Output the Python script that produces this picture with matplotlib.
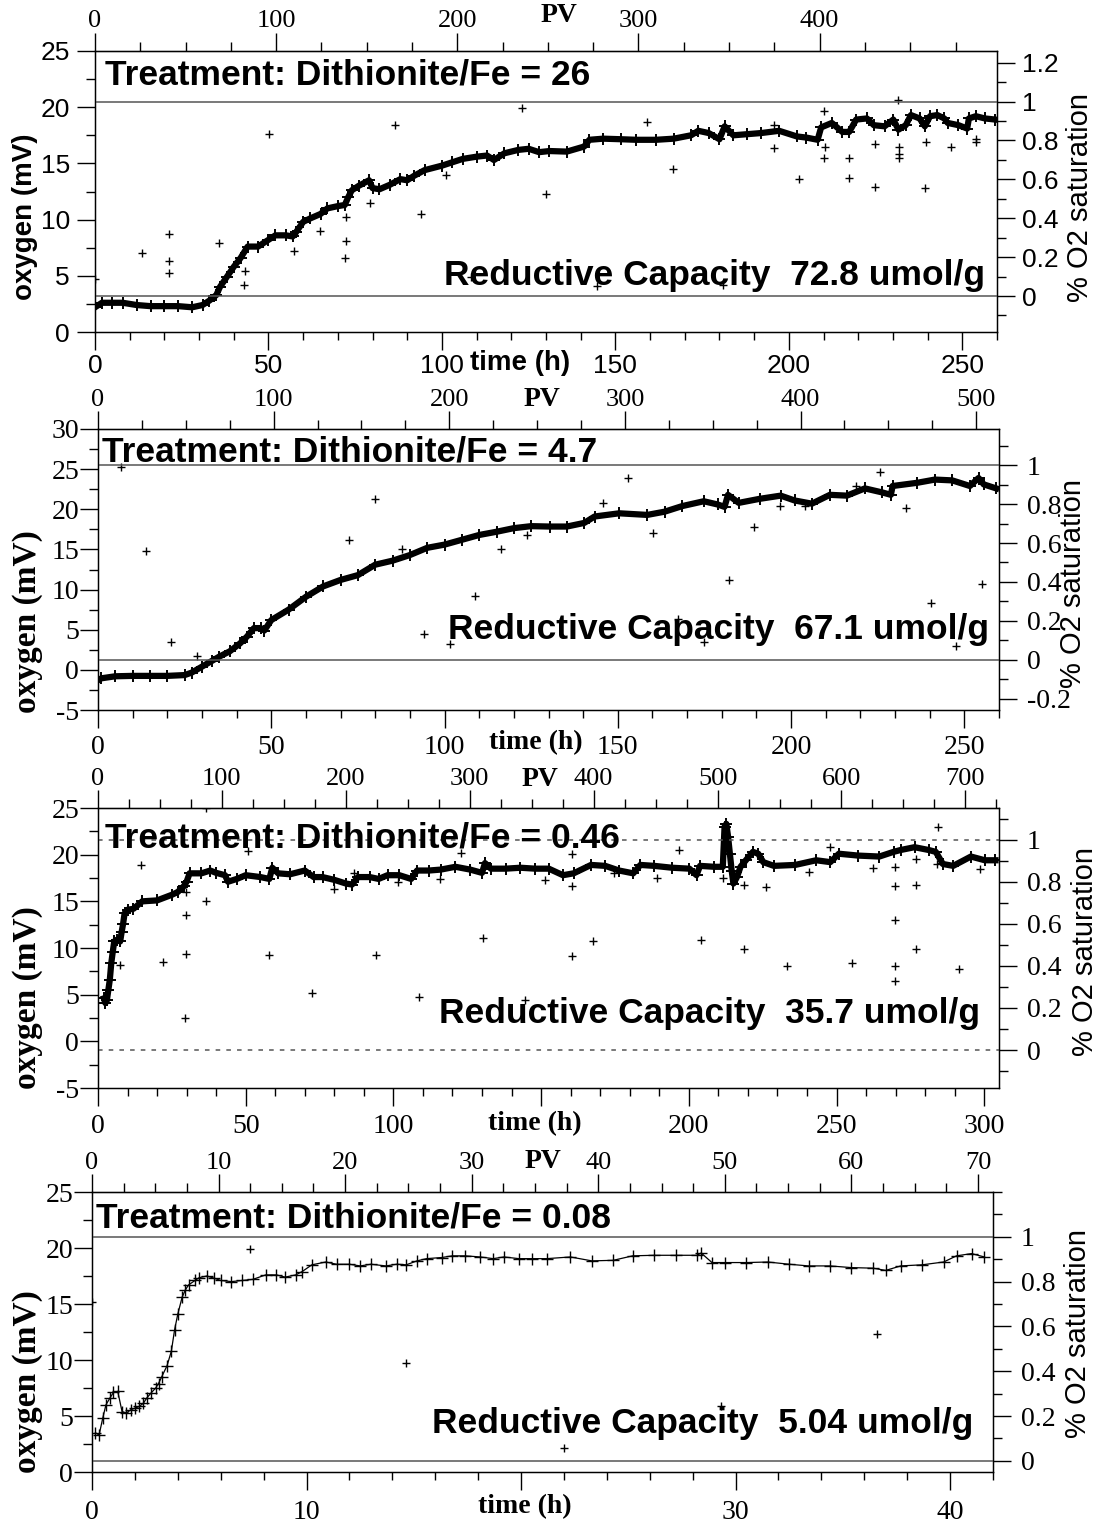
import matplotlib
matplotlib.use("Agg")
import matplotlib.pyplot as plt
from matplotlib.ticker import MultipleLocator

plt.rcParams['axes.unicode_minus'] = False

SANS = 'Liberation Sans'
NARROW = ['Liberation Sans Narrow', 'Liberation Sans']
SERIF = 'Liberation Serif'

# ---------------- data (time in h, oxygen in mV) ----------------
# panel 1: Dithionite/Fe = 26
p1_t = [0, 2, 5, 8, 12, 16, 20, 24, 28, 31, 33, 35, 36, 38, 40, 42, 44, 47, 50, 52,
        55, 57, 58, 60, 62, 65, 67, 70, 72, 73, 74, 76, 79, 80, 82, 85, 88, 90, 92, 95,
        100, 103, 106, 110, 113, 115, 118, 122, 125, 128, 131, 136, 141, 142.5, 146.5,
        151.6, 156, 161.7, 166.8, 171.8, 173.9, 176.9, 180, 181.5, 184, 188, 192, 197.2,
        202.3, 205, 208.3, 209.3, 212.4, 215.4, 217.4, 219.4, 222.5, 224.5, 227.6, 230.1,
        231.6, 233.7, 235.2, 237.7, 239.2, 240.7, 242.8, 244.8, 245.8, 248.9, 251.4,
        251.9, 253.9, 256.5, 259.5]
p1_v = [2.2, 2.6, 2.6, 2.6, 2.4, 2.3, 2.3, 2.3, 2.2, 2.4, 2.8, 3.3, 4.0, 4.9, 5.8, 6.6,
        7.6, 7.6, 8.2, 8.6, 8.6, 8.5, 8.9, 9.8, 10.1, 10.5, 11.0, 11.2, 11.3, 12.0, 12.6,
        13.0, 13.5, 12.8, 12.7, 13.1, 13.6, 13.5, 13.9, 14.4, 14.8, 15.1, 15.4, 15.6,
        15.7, 15.3, 15.9, 16.2, 16.3, 16.0, 16.1, 16.05, 16.5, 17.1, 17.2, 17.15, 17.1,
        17.1, 17.2, 17.5, 17.9, 17.7, 17.15, 18.3, 17.5, 17.6, 17.7, 17.9, 17.4, 17.3,
        17.1, 18.2, 18.6, 17.8, 17.8, 18.9, 19.0, 18.4, 18.3, 18.9, 18.0, 18.4, 19.3,
        19.0, 18.3, 19.2, 19.3, 19.0, 18.6, 18.4, 18.1, 19.0, 19.2, 19.0, 18.9]
p1_out_t = [0, 13.6, 21.2, 21.2, 21.4, 35.6, 43.2, 43.0, 50.1, 57.5, 64.8, 72.3, 72.3,
            72.0, 79.4, 86.5, 93.9, 101.2, 108.3, 123.0, 130.1, 144.8, 159.2, 166.6,
            181.0, 195.7, 195.7, 203.0, 210.2, 210.4, 210.2, 217.4, 217.4, 224.8, 224.8,
            231.6, 231.8, 231.8, 231.8, 239.2, 239.4, 246.6, 253.9, 253.9]
p1_out_v = [4.75, 7.0, 8.7, 6.3, 5.25, 7.95, 5.4, 4.2, 17.65, 7.2, 9.0, 10.2, 8.1, 6.6,
            11.5, 18.4, 10.5, 14.0, 4.9, 19.95, 12.3, 4.1, 18.7, 14.5, 4.2, 18.4, 16.4,
            13.6, 19.7, 16.5, 15.5, 15.5, 13.7, 12.9, 16.7, 20.6, 16.5, 15.8, 15.5, 12.8,
            16.9, 16.5, 16.9, 17.2]

# panel 2: Dithionite/Fe = 4.7
p2_t = [0, 1, 5, 10, 15, 20, 25, 27, 30, 33, 35, 38, 41, 43, 45, 47, 48, 50, 55, 60,
        65, 70, 75, 80, 85, 90, 95, 100, 105, 110, 115, 120, 125, 130.3, 135.3, 140.3,
        143.3, 150.4, 158.5, 163.5, 168.6, 174.8, 178.8, 180.8, 181.8, 184.9, 190.9, 197,
        201, 206, 211.2, 216.1, 221.3, 226.3, 228.8, 229.3, 236.4, 241.5, 246.5, 251.6,
        254.1, 255.6, 259.2]
p2_v = [-1.3, -1.05, -0.8, -0.75, -0.75, -0.75, -0.65, -0.35, 0.4, 1.15, 1.65, 2.3, 3.3,
        4.15, 5.2, 5.2, 4.9, 6.2, 7.5, 9.1, 10.4, 11.2, 11.8, 13.1, 13.6, 14.3, 15.2,
        15.6, 16.2, 16.8, 17.2, 17.65, 17.9, 17.85, 17.85, 18.3, 19.1, 19.5, 19.3, 19.7,
        20.4, 21.0, 20.6, 20.3, 21.8, 20.8, 21.3, 21.7, 21.1, 20.7, 21.8, 21.7, 22.6,
        22.1, 21.8, 22.9, 23.3, 23.7, 23.6, 22.9, 23.9, 23.1, 22.6]
p2_out_t = [6.6, 13.9, 21.2, 28.6, 72.4, 79.8, 87.7, 94.2, 101.7, 108.9, 116.4, 123.7,
            145.6, 152.8, 160.1, 167.4, 174.8, 182.1, 189.4, 196.8, 204.0, 218.7, 225.8,
            233.2, 240.5, 247.7, 255.1]
p2_out_v = [25.3, 14.8, 3.45, 1.75, 16.2, 21.3, 15.0, 4.5, 3.2, 9.15, 15.0, 16.8, 20.8,
            23.9, 17.1, 6.3, 3.5, 11.2, 17.8, 20.4, 20.4, 22.9, 24.6, 20.2, 8.3, 3.0, 10.7]

# panel 3: Dithionite/Fe = 0.46
p3_t = [2, 2.5, 3, 3.5, 4, 4.5, 5, 5.5, 6.5, 7.5, 8, 8.5, 9, 10, 12, 15, 20, 25, 27, 29,
        30, 31, 35, 38, 40, 43, 44, 47, 50, 55, 58, 59, 61, 65, 70, 73, 76, 80, 84, 86,
        88, 92, 95, 98, 102, 106, 108, 112, 116, 121, 126, 130, 131, 133, 138, 143, 148,
        152.6, 157.4, 161, 166.9, 171.7, 176.4, 181.2, 183.6, 188.3, 194.3, 200.2, 202.6,
        203.8, 208.6, 211.5, 212.1, 212.7, 213.3, 213.9, 214.5, 215.1, 216.3, 217.5,
        219.3, 221.7, 223.5, 225.2, 228.8, 236, 243.1, 247.9, 250.8, 257.4, 264.5, 269.3,
        271.7, 276.4, 281.2, 283.6, 286, 289.5, 295.5, 300.2, 303.8]
p3_v = [4.6, 4.1, 4.4, 5.5, 6.6, 8.4, 9.6, 10.7, 10.9, 10.7, 11.7, 12.6, 13.7, 14.1, 14.2,
        15.0, 15.1, 15.7, 16.0, 16.6, 17.1, 18.0, 18.0, 18.3, 18.05, 17.8, 17.1, 17.4,
        17.8, 17.6, 17.4, 18.6, 18.0, 17.9, 18.3, 17.6, 17.6, 17.3, 16.9, 16.8, 17.6,
        17.6, 17.4, 17.8, 17.8, 17.4, 18.3, 18.3, 18.4, 18.7, 18.4, 18.05, 19.1, 18.5,
        18.5, 18.6, 18.5, 18.5, 17.8, 18.0, 18.9, 18.8, 18.3, 18.0, 18.9, 18.8, 18.6,
        18.5, 17.8, 18.8, 18.7, 18.7, 23.0, 23.3, 21.9, 20.1, 18.3, 16.9, 17.6, 18.7,
        19.4, 20.3, 20.1, 19.2, 18.8, 18.9, 19.4, 19.2, 20.1, 19.9, 19.8, 20.3, 20.5,
        20.8, 20.5, 20.3, 19.0, 18.8, 19.8, 19.4, 19.4]
p3_out_t = [7.6, 14.7, 22.1, 29.8, 29.8, 29.8, 29.4, 36.7, 36.7, 50.8, 58.0, 72.6, 79.8,
            86.8, 94.1, 101.5, 108.6, 115.9, 122.9, 130.2, 144.7, 151.2, 160.4, 160.4,
            160.4, 167.5, 174.6, 189.3, 196.7, 204.0, 211.5, 218.7, 218.7, 226.2, 233.3,
            240.7, 247.9, 255.2, 262.4, 269.9, 269.9, 269.9, 269.9, 269.9, 277.0, 277.0,
            277.0, 284.2, 284.0, 291.3, 298.5]
p3_out_v = [8.2, 18.9, 8.5, 16.0, 13.5, 9.4, 2.55, 15.0, 25.0, 20.4, 9.25, 5.15, 16.3,
            18.05, 9.25, 17.1, 4.8, 17.4, 20.2, 11.1, 4.45, 17.3, 20.05, 16.6, 9.1, 10.7,
            18.0, 17.45, 20.5, 10.9, 17.45, 9.9, 16.7, 16.5, 8.1, 18.1, 20.8, 8.35, 18.6,
            18.7, 16.6, 13.0, 8.1, 6.45, 16.8, 19.5, 9.9, 23.0, 19.0, 7.7, 18.5]

# panel 4: Dithionite/Fe = 0.08
p4_t = [0.16, 0.33, 0.5, 0.65, 0.85, 1.0, 1.2, 1.4, 1.6, 1.8, 2.0, 2.2, 2.4, 2.55, 2.75,
        2.97, 3.1, 3.25, 3.5, 3.7, 3.85, 4.0, 4.2, 4.35, 4.5, 4.8, 5.0, 5.35, 5.7, 6.0,
        6.5, 7.0, 7.5, 8.1, 8.6, 9.0, 9.5, 9.8, 10.25, 10.9, 11.4, 12.0, 12.5, 13.0, 13.7,
        14.2, 14.65, 15.15, 15.6, 16.3, 16.8, 17.4, 18.1, 18.7, 19.2, 19.9, 20.5, 21.2,
        22.3, 23.3, 24.3, 25.2, 26.2, 27.2, 28.2, 28.4, 28.9, 29.5, 30.5, 31.5, 32.5,
        33.4, 34.4, 35.4, 36.4, 37.0, 37.7, 38.7, 39.7, 40.3, 41.0, 41.6]
p4_v = [3.5, 3.3, 4.8, 6.0, 6.65, 7.1, 7.2, 5.4, 5.25, 5.55, 5.7, 5.85, 6.15, 6.6, 7.05,
        7.5, 7.9, 8.5, 9.5, 10.8, 12.7, 14.1, 15.6, 16.25, 16.7, 17.1, 17.35, 17.5, 17.3,
        17.1, 17.0, 17.1, 17.2, 17.6, 17.6, 17.4, 17.6, 17.9, 18.5, 18.75, 18.55, 18.55,
        18.4, 18.55, 18.4, 18.55, 18.5, 18.85, 19.05, 19.15, 19.3, 19.3, 19.2, 19.05,
        19.2, 19.05, 19.05, 19.05, 19.2, 18.85, 18.9, 19.3, 19.35, 19.35, 19.35, 19.55,
        18.7, 18.7, 18.7, 18.75, 18.55, 18.4, 18.4, 18.25, 18.2, 18.0, 18.4, 18.5, 18.75,
        19.3, 19.5, 19.2]
p4_out_t = [0.0, 7.35, 14.65, 22.0, 29.3, 36.6]
p4_out_v = [15.2, 19.95, 9.7, 2.1, 5.9, 12.3]

treatments = ['26', '4.7', '0.46', '0.08']
capacities = ['72.8', '67.1', '35.7', '5.04']
# oxygen (mV) that corresponds to 0 % and 100 % saturation
sat_mv = [(3.2, 20.5), (1.25, 25.5), (-0.93, 21.6), (1.0, 21.0)]
pv_per_hour = [1.915, 1.973, 2.384, 1.695]

W, H = 1101, 1523
fig = plt.figure(figsize=(W / 100, H / 100), dpi=100)


def ftext(x, y, s, **kw):
    fig.text(x / W, 1 - y / H, s, **kw)


def panel(box, t, v, ot, ov, xlim, ylim, xticks, xlabels, xminor, yticks,
          pv_rate, pv_major, pv_minor, sat, sat_ticks, ref_ls, dense,
          fonts, pads):
    left, top, right, bottom = box
    ax = fig.add_axes([left / W, 1 - bottom / H, (right - left) / W, (bottom - top) / H])
    if dense:
        ax.plot(t, v, color='k', lw=4.5, marker='+', ms=9, mew=1.4, zorder=3)
    else:
        ax.plot(t, v, color='k', lw=0.9, marker='+', ms=8, mew=1.0, zorder=3)
    ax.plot(ot, ov, '+', color='k', ms=6, mew=1.0, zorder=3)
    ax.set_xlim(*xlim)
    ax.set_ylim(*ylim)
    ax.set_xticks(xticks, xlabels)
    ax.xaxis.set_minor_locator(MultipleLocator(xminor))
    ax.set_yticks(yticks, ['%g' % y for y in yticks])
    ax.yaxis.set_minor_locator(MultipleLocator(2.5))
    ax.tick_params(which='both', direction='out', width=1, color='k')
    ax.tick_params(which='major', length=13)
    ax.tick_params(which='minor', length=6.5)
    ax.tick_params(axis='x', which='minor', length=6)
    ax.tick_params(axis='x', labelfontfamily=fonts['bottom'][0], labelsize=fonts['bottom'][1],
                   pad=pads['bottom'])
    ax.tick_params(axis='y', labelfontfamily=fonts['left'][0], labelsize=fonts['left'][1],
                   pad=pads['left'])
    for s in ax.spines.values():
        s.set_linewidth(1.0)

    s0, s1 = sat
    ax2 = ax.twinx()
    ax2.set_ylim((ylim[0] - s0) / (s1 - s0), (ylim[1] - s0) / (s1 - s0))
    ax2.set_yticks(sat_ticks, ['%g' % s for s in sat_ticks])
    ax2.yaxis.set_minor_locator(MultipleLocator(0.1))
    ax2.tick_params(which='both', direction='out', width=1)
    ax2.tick_params(which='major', length=13)
    ax2.tick_params(which='minor', length=6.5)
    ax2.tick_params(axis='y', labelfontfamily=fonts['right'][0], labelsize=fonts['right'][1],
                    pad=pads['right'])
    for lvl in (0, 1):
        ax2.axhline(lvl, color='#555555', lw=1.1, ls=ref_ls, zorder=1)

    sec = ax.secondary_xaxis('top', functions=(lambda x: x * pv_rate, lambda x: x / pv_rate))
    sec.xaxis.set_major_locator(MultipleLocator(pv_major))
    sec.xaxis.set_minor_locator(MultipleLocator(pv_minor))
    sec.tick_params(which='both', direction='out', width=1)
    sec.tick_params(which='major', length=13)
    sec.tick_params(which='minor', length=6.5)
    sec.tick_params(axis='x', labelfontfamily=SERIF, labelsize=19, pad=pads['top'])
    return ax


sans_ticks = {'bottom': (NARROW, 19), 'left': (NARROW, 19), 'right': (NARROW, 19)}
serif_ticks = {'bottom': (SERIF, 20), 'left': (SERIF, 20), 'right': (SERIF, 20)}

# panel 1
panel((95, 51, 997, 332), p1_t, p1_v, p1_out_t, p1_out_v, (0, 260), (0, 25),
      [0, 50, 100, 150, 200, 250], ['0', '50', '100', '150', '200', '250'], 10,
      [0, 5, 10, 15, 20, 25], pv_per_hour[0], 100, 25, sat_mv[0],
      [0, 0.2, 0.4, 0.6, 0.8, 1, 1.2], '-', True, sans_ticks,
      {'bottom': 3, 'left': 5, 'right': 5, 'top': 1})
# panel 2
panel((98, 429, 999, 710), p2_t, p2_v, p2_out_t, p2_out_v, (0, 260), (-5, 30),
      [0, 50, 100, 150, 200, 250], ['0', '50', '100', '150', '200', '250'], 10,
      [-5, 0, 5, 10, 15, 20, 25, 30], pv_per_hour[1], 100, 25, sat_mv[1],
      [-0.2, 0, 0.2, 0.4, 0.6, 0.8, 1], '-', True, serif_ticks,
      {'bottom': 5, 'left': 0.5, 'right': 7, 'top': 0})
# panel 3
panel((98, 808, 999, 1088), p3_t, p3_v, p3_out_t, p3_out_v, (0, 305), (-5, 25),
      [0, 50, 100, 150, 200, 250, 300], ['0', '50', '100', '', '200', '250', '300'], 10,
      [-5, 0, 5, 10, 15, 20, 25], pv_per_hour[2], 100, 25, sat_mv[2],
      [0, 0.2, 0.4, 0.6, 0.8, 1], (0, (3, 4)), True, serif_ticks,
      {'bottom': 6, 'left': 0.5, 'right': 7, 'top': 0})
# panel 4
panel((92, 1192, 993, 1472), p4_t, p4_v, p4_out_t, p4_out_v, (0, 42), (0, 25),
      [0, 10, 20, 30, 40], ['0', '10', '', '30', '40'], 2,
      [0, 5, 10, 15, 20, 25], pv_per_hour[3], 10, 2.5, sat_mv[3],
      [0, 0.2, 0.4, 0.6, 0.8, 1], '-', False, serif_ticks,
      {'bottom': 7, 'left': 0.5, 'right': 7, 'top': 0})

# annotations
treat_pos = [(105, 75), (102, 452), (105, 838), (96, 1218)]
cap_pos = [(985, 275), (989, 630), (980, 1013), (973, 1423)]
for i in range(4):
    ftext(*treat_pos[i], 'Treatment: Dithionite/Fe = ' + treatments[i], family=SANS,
          weight='bold', size=25.5, ha='left', va='center')
    ftext(*cap_pos[i], 'Reductive Capacity  ' + capacities[i] + ' umol/g', family=SANS,
          weight='bold', size=25.5, ha='right', va='center')

ylab_pos = [(25, 217), (28, 622), (28, 998), (28, 1382)]
for i, (x, y) in enumerate(ylab_pos):
    if i == 0:
        ftext(x, y, 'oxygen (mV)', family=SANS, weight='bold', size=20,
              rotation=90, ha='center', va='center')
    else:
        ftext(x, y, 'oxygen (mV)', family=SERIF, weight='bold', size=24,
              rotation=90, ha='center', va='center')

for x, y in [(1080, 197), (1073, 584), (1085, 951), (1078, 1333)]:
    ftext(x, y, '% O2 saturation', family=SANS, size=21, rotation=90,
          ha='center', va='center')

time_pos = [(520, 363), (536, 743), (535, 1124), (525, 1507)]
for i, (x, y) in enumerate(time_pos):
    fam = SANS if i == 0 else SERIF
    ftext(x, y, 'time (h)', family=fam, weight='bold', size=20, ha='center', va='center')

for x, y in [(559, 15), (542, 399), (540, 779), (543, 1161)]:
    ftext(x, y, 'PV', family=SERIF, weight='bold', size=20, ha='center', va='center')

fig.savefig('out.png', dpi=100)
